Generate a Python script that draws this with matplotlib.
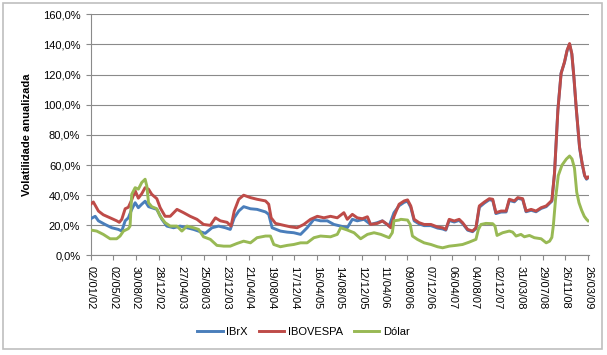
import matplotlib
matplotlib.use('Agg')
import matplotlib.pyplot as plt
from matplotlib.patches import Rectangle
from matplotlib.ticker import FuncFormatter, MultipleLocator

plt.rcParams['font.family'] = ['Liberation Sans', 'DejaVu Sans']

# x axis labels (one every 120 days from 02/01/02)
tick_labels = ['02/01/02', '02/05/02', '30/08/02', '28/12/02', '27/04/03', '25/08/03',
               '23/12/03', '21/04/04', '19/08/04', '17/12/04', '16/04/05', '14/08/05',
               '12/12/05', '11/04/06', '09/08/06', '07/12/06', '06/04/07', '04/08/07',
               '02/12/07', '31/03/08', '29/07/08', '26/11/08', '26/03/09']

# days since 02/01/2002, annualised volatility in %
ibrx_days = [0, 24, 41, 76, 112, 147, 165, 183, 200, 218, 236, 253, 271, 289, 307, 324,
             351, 378, 404, 440, 475, 511, 546, 572, 608, 644, 679, 715, 741, 762, 786,
             812, 848, 883, 928, 945, 963, 1007, 1043, 1078, 1114, 1149, 1185, 1220,
             1256, 1291, 1327, 1362, 1389, 1415, 1451, 1486, 1522, 1548, 1584, 1610,
             1637, 1664, 1682, 1699, 1717, 1743, 1770, 1806, 1841, 1868, 1885, 1903,
             1930, 1956, 1974, 2001, 2027, 2045, 2063, 2090, 2116, 2134, 2151, 2178,
             2205, 2222, 2249, 2267, 2293, 2311, 2338, 2364, 2391, 2418, 2436, 2448,
             2462, 2480, 2497, 2515, 2529, 2542, 2554, 2565, 2577, 2595, 2609, 2622,
             2632, 2640]
ibrx = [24.4, 26, 23, 20.6, 18.4, 17.3, 16.2, 23, 25, 30.6, 35, 31.7, 34, 36, 32.4, 31.7,
        30.6, 24, 19.5, 18.4, 19.5, 18.4, 17.3, 16.2, 14.7, 18.4, 19.5, 18.4, 17.3, 25, 29.5,
        32.4, 31, 30.6, 28.9, 27.3, 18.4, 16.2, 15.5, 15.1, 14, 18.4, 24, 23,
        23, 20.6, 19.5, 18.4, 24, 23, 24, 20.6, 21.8, 23, 19.5, 28.4,
        33, 35.3, 36, 32, 23, 21, 19.8, 19.8, 18.2, 17.6, 16.8, 23.2,
        22.2, 23.3, 21.2, 16.8, 15.8, 17.8, 32, 34.8, 37, 36.6, 27.8, 28.8,
        28.9, 36.5, 35.6, 37.9, 37.2, 29, 30, 29, 31.2, 32.4, 34.6, 36,
        54.5, 97, 121, 128, 136, 140, 133.5, 118, 98, 71.5, 60.5, 52.8,
        50.6, 51.5]

ibov_days = [0, 14, 41, 67, 103, 138, 152, 165, 183, 200, 218, 236, 253, 271, 289, 307,
             324, 351, 369, 395, 422, 458, 493, 528, 564, 599, 635, 662, 688, 724, 745,
             762, 786, 812, 848, 883, 928, 945, 958, 981, 1025, 1061, 1096, 1131, 1167,
             1203, 1238, 1273, 1309, 1344, 1362, 1389, 1415, 1442, 1469, 1486, 1522,
             1549, 1575, 1593, 1611, 1637, 1664, 1682, 1699, 1717, 1743, 1770, 1806,
             1841, 1868, 1885, 1903, 1930, 1956, 1974, 2001, 2027, 2045, 2063, 2090,
             2116, 2134, 2151, 2178, 2205, 2222, 2249, 2267, 2293, 2311, 2338, 2364,
             2391, 2418, 2436, 2448, 2462, 2480, 2497, 2515, 2529, 2542, 2554, 2565,
             2577, 2595, 2609, 2622, 2632, 2640]
ibovespa = [34, 35.5, 29.5, 27, 25, 23, 22, 24, 31, 32, 37, 43, 38, 41, 45, 44,
            40.6, 37.7, 31.7, 26, 26, 30.6, 28.4, 26, 24, 20.6, 20, 25, 23, 22, 19.5,
            29.5, 37.3, 40, 38.4, 37.3, 36.2, 34, 25, 21.3, 20, 19, 18.4, 20.6, 24,
            26, 25, 26, 25, 28.4, 24, 27.3, 25, 24.4, 25.7, 20.6, 21.3,
            22.9, 20.6, 18.4, 26.2, 34, 36.2, 36.9, 32.9, 24, 21.8, 20.6, 20.6,
            18.9, 18.4, 17.3, 24, 22.9, 24, 21.8, 17.3, 16.2, 18.4, 32.9, 35.5,
            37.7, 37.3, 28.4, 29.5, 29.5, 37.3, 36.2, 38.4, 37.7, 29.5, 30.6, 29.5,
            31.7, 32.9, 35.1, 36.6, 54.5, 96.3, 120.7, 128.4, 136.2, 140.6, 134, 118.5,
            98.5, 72, 61, 53.2, 51, 52]

dolar_days = [0, 32, 67, 103, 138, 156, 174, 200, 209, 218, 236, 253, 271, 289, 298, 307,
              324, 351, 369, 395, 422, 458, 484, 511, 546, 573, 599, 635, 670, 706, 741,
              777, 812, 848, 883, 928, 954, 972, 1007, 1043, 1078, 1114, 1149, 1185,
              1220, 1273, 1309, 1327, 1362, 1398, 1433, 1469, 1504, 1540, 1584, 1601,
              1610, 1637, 1646, 1682, 1696, 1708, 1734, 1770, 1806, 1841, 1868, 1903,
              1939, 1974, 2010, 2045, 2058, 2072, 2098, 2134, 2146, 2157, 2187, 2222,
              2240, 2258, 2284, 2302, 2329, 2355, 2391, 2418, 2436, 2448, 2456, 2468,
              2482, 2502, 2525, 2542, 2555, 2568, 2580, 2592, 2606, 2620, 2632, 2640]
dolar = [16.9, 16.2, 14, 11.1, 11.1, 12.9, 16.2, 17.8, 19.5, 40.6, 45, 44, 48.4, 50.6, 46, 35,
         32.4, 31, 26, 21.8, 19.5, 19.5, 16.2, 19.5, 18.4, 17.3, 12.4, 10.7, 6.7, 6.2, 6.2,
         8, 9.5, 8.4, 11.8, 12.9, 12.9, 7.3, 5.8, 6.7, 7.3, 8.4, 8.4, 11.8,
         12.9, 12.4, 14, 18.4, 16.9, 15.1, 11.1, 14, 15.1, 14, 11.8, 15.1,
         23, 23.5, 24, 23.5, 20.6, 12.9, 10.7, 8.4, 7.3, 5.8, 5.1, 6.2,
         6.7, 7.3, 8.9, 10.7, 17.3, 20.6, 21.3, 21.1, 19.5, 13.3, 15.1, 16.2,
         15.5, 12.9, 14, 12.4, 13.3, 11.8, 11.1, 8.4, 9.5, 12, 20, 38,
         53, 60, 64, 66, 64, 58, 42, 35, 30, 26, 24, 23]

fig = plt.figure(figsize=(6.07, 3.55), dpi=100)
ax = fig.add_axes([0.1494, 0.2803, 0.8209, 0.6794])

ax.plot(ibrx_days, ibrx, color='#4A7EBB', lw=2.1, label='IBrX', zorder=3)
ax.plot(ibov_days, ibovespa, color='#BE4B48', lw=2.1, label='IBOVESPA', zorder=4)
ax.plot(dolar_days, dolar, color='#98B954', lw=2.1, label='Dólar', zorder=5)

ax.set_ylim(0, 160)
ax.set_xlim(0, 2645)
ax.yaxis.set_major_locator(MultipleLocator(20))
ax.yaxis.set_major_formatter(FuncFormatter(lambda v, p: ('%.1f%%' % v).replace('.', ',')))
ax.set_xticks([i * 120 for i in range(len(tick_labels))])
ax.set_xticklabels(tick_labels, rotation=-90)

ax.grid(True, axis='y', color='#8a8a8a', lw=0.8)
ax.set_axisbelow(True)
for s in ['top', 'right']:
    ax.spines[s].set_visible(False)
for s in ['left', 'bottom']:
    ax.spines[s].set_color('#8a8a8a')
    ax.spines[s].set_linewidth(0.8)
ax.tick_params(axis='both', colors='#8a8a8a', labelcolor='black', labelsize=8,
               length=3.5, width=0.8)
ax.tick_params(axis='y', pad=4)
ax.tick_params(axis='x', pad=4)

fig.text(0.045, 0.62, 'Volatilidade anualizada', rotation=90, fontsize=8,
         fontweight='bold', ha='center', va='center')

fig.legend(loc='center', bbox_to_anchor=(0.5, 0.065), ncol=3, frameon=False, fontsize=8,
           handlelength=2.3, handletextpad=0.3, columnspacing=1.0)

fig.patches.append(Rectangle((0.005, 0.017), 0.987, 0.975, transform=fig.transFigure,
                             fill=False, edgecolor='#bfbfbf', lw=1.2))

fig.savefig('out.png', dpi=100)
